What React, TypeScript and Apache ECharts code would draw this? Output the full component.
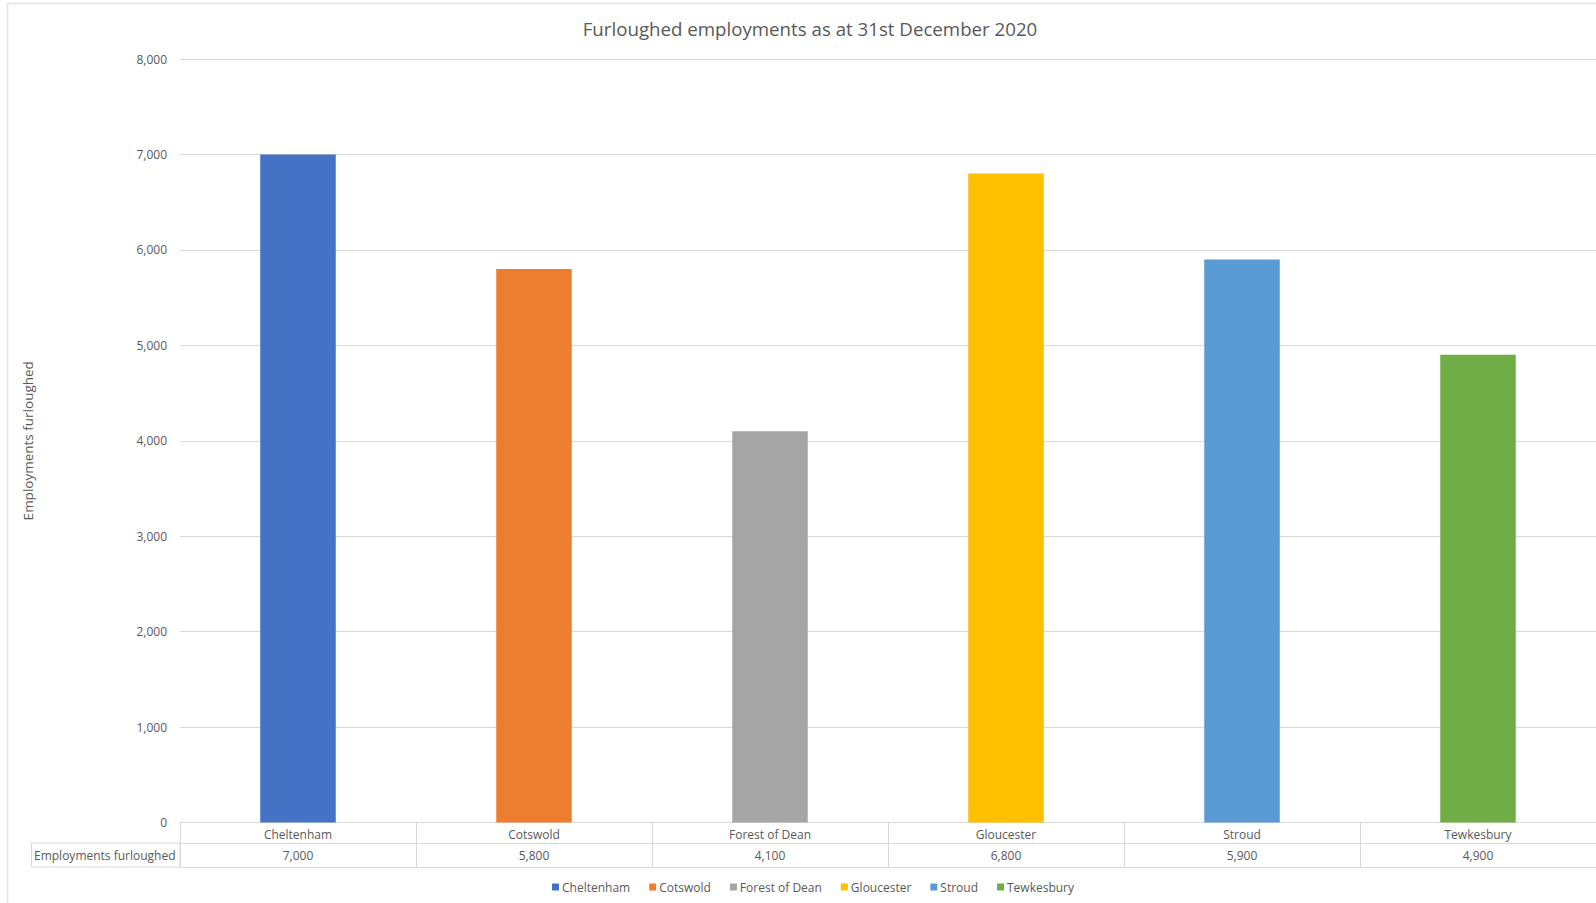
import React, { useEffect, useRef } from "react";
import * as echarts from "echarts";

const titleText = "Furloughed employments as at 31st December 2020";
const categories = ["Cheltenham", "Cotswold", "Forest of Dean", "Gloucester", "Stroud", "Tewkesbury"];
const values = [7000, 5800, 4100, 6800, 5900, 4900];
const colors = ["#4472C4", "#ED7D31", "#A5A5A5", "#FFC000", "#5B9BD5", "#70AD47"];
const seriesLabel = "Employments furloughed";
const yTicks = { min: 0, max: 8000, interval: 1000 };

const FONT = "Open Sans";
const TEXT = "#595959";
const LINE = "#d9d9d9";

export default function App() {
  const ref = useRef<HTMLDivElement>(null);
  useEffect(() => {
    if (!ref.current) return;
    const chart = echarts.init(ref.current, null, { renderer: "svg" });
    const fmt = (v: number) => v.toLocaleString("en-US");
    chart.setOption({
      animation: false,
      backgroundColor: "#ffffff",
      textStyle: { fontFamily: FONT },
      title: {
        text: titleText,
        left: 805,
        textAlign: "center",
        top: 14,
        textStyle: { fontFamily: FONT, fontSize: 18.7, fontWeight: "normal", color: TEXT },
      },
      legend: {
        data: categories,
        left: 547,
        top: 876,
        icon: "rect",
        itemWidth: 7,
        itemHeight: 7,
        itemGap: 19,
        textStyle: { fontFamily: FONT, fontSize: 12, color: TEXT, padding: [0, 0, 0, -2] },
      },
      grid: { left: 180, right: 0, top: 59, bottom: 80.5, containLabel: false },
      xAxis: [
        {
          type: "category",
          data: categories,
          position: "bottom",
          axisLine: { show: true, lineStyle: { color: LINE, width: 1 } },
          axisTick: { show: true, interval: 0, length: 45, alignWithLabel: false, lineStyle: { color: LINE } },
          axisLabel: { interval: 0, margin: 6, fontSize: 12, color: TEXT, fontFamily: FONT },
        },
        {
          type: "category",
          data: values.map(fmt),
          position: "bottom",
          offset: 21,
          axisLine: { show: true, lineStyle: { color: LINE, width: 1 } },
          axisTick: { show: false },
          axisLabel: { interval: 0, margin: 6, fontSize: 12, color: TEXT, fontFamily: FONT },
        },
        {
          type: "category",
          data: categories,
          position: "bottom",
          offset: 45,
          axisLine: { show: true, lineStyle: { color: LINE, width: 1 } },
          axisTick: { show: false },
          axisLabel: { show: false },
        },
      ],
      yAxis: {
        type: "value",
        min: yTicks.min,
        max: yTicks.max,
        interval: yTicks.interval,
        name: seriesLabel,
        nameLocation: "middle",
        nameGap: 145,
        nameRotate: 90,
        nameTextStyle: { fontFamily: FONT, fontSize: 13.5, color: TEXT },
        axisLine: { show: false },
        axisTick: { show: false },
        axisLabel: { margin: 13, fontSize: 12, color: TEXT, fontFamily: FONT, formatter: (v: number) => fmt(v) },
        splitLine: { show: true, lineStyle: { color: LINE, width: 1 } },
      },
      series: categories.map((name, i) => ({
        name,
        type: "bar",
        stack: "total",
        barWidth: "32%",
        xAxisIndex: 0,
        itemStyle: { color: colors[i] },
        data: categories.map((_, j) => (j === i ? values[i] : "-")),
      })),
      graphic: [
        {
          type: "rect",
          shape: { x: 7.5, y: 3.5, width: 1700, height: 1000 },
          style: { fill: "none", stroke: "#e3e3e3", lineWidth: 1.5 },
          silent: true,
        },
        {
          type: "rect",
          shape: { x: 31.5, y: 843, width: 148.5, height: 24 },
          style: { fill: "none", stroke: LINE, lineWidth: 1 },
          silent: true,
        },
        {
          type: "text",
          x: 34,
          y: 855,
          style: { text: seriesLabel, fontFamily: FONT, fontSize: 12, fill: TEXT, verticalAlign: "middle", align: "left" },
          silent: true,
        },
      ],
    });
    return () => chart.dispose();
  }, []);
  return (
    <div
      ref={ref}
      style={{ position: "absolute", left: 0, top: 0, width: 1596, height: 903 }}
    />
  );
}
